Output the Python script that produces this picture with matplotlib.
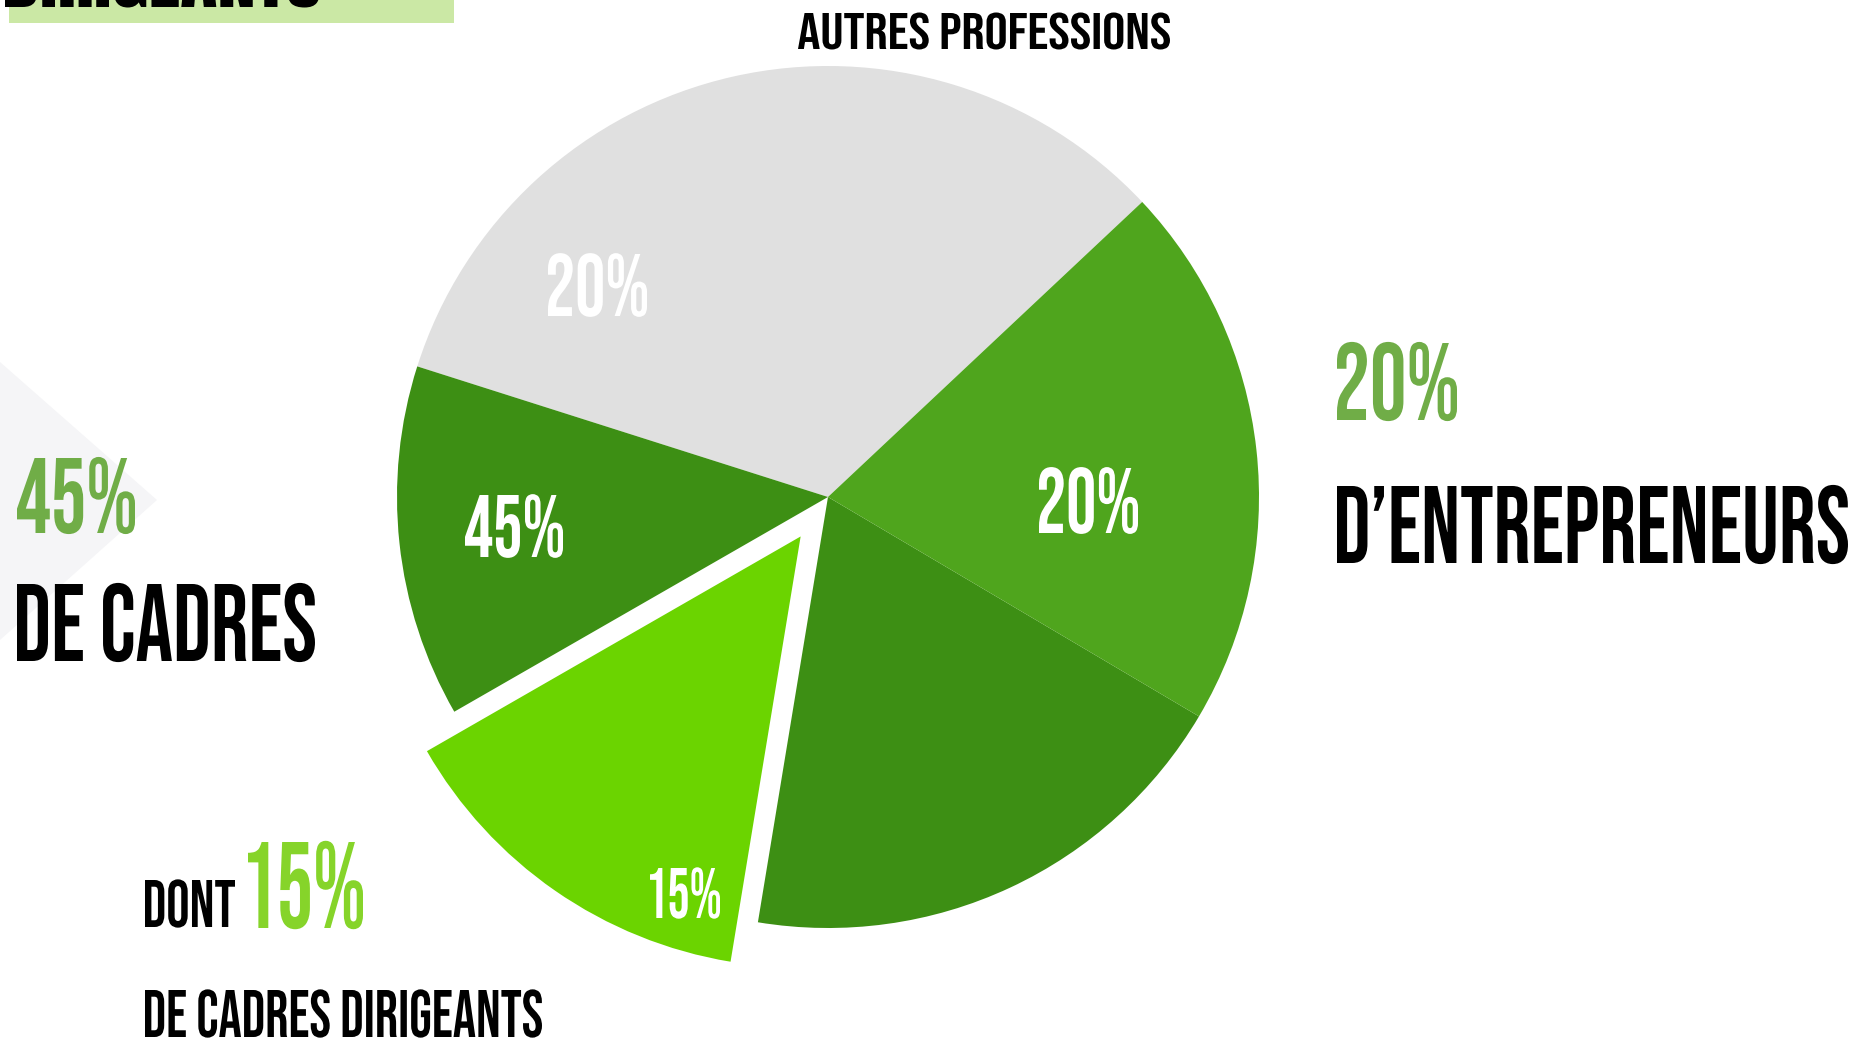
import matplotlib
matplotlib.use("Agg")
import matplotlib.pyplot as plt
from matplotlib.font_manager import FontProperties
from matplotlib.textpath import TextPath
from matplotlib.patheffects import AbstractPathEffect
from matplotlib.transforms import Affine2D
from matplotlib.patches import Polygon, Rectangle

W, H = 1869, 1041

slice_names = ["Autres professions", "Cadres", "Cadres dirigeants", "Cadres (suite)", "Entrepreneurs"]
slice_shares = [33.1, 13.2, 14.1, 19.1, 20.5]
slice_colors = ["#e0e0e0", "#3d8f14", "#6bd400", "#3d8f14", "#4fa51d"]
slice_explode = [0, 0, 48, 0, 0]

# printed percentages
label_autres = "20%"
label_entre = "20%"
label_cadres = "45%"
label_dirig = "15%"


class Stretch(AbstractPathEffect):
    # scales the glyphs vertically around the baseline
    def __init__(self, sy):
        super().__init__()
        self.sy = sy

    def draw_path(self, renderer, gc, tpath, affine, rgbFace=None):
        renderer.draw_path(gc, tpath, Affine2D().scale(1, self.sy) + affine, rgbFace)


def ink(s, family):
    return TextPath((0, 0), s, size=1, prop=FontProperties(family=family)).get_extents()


fig = plt.figure(figsize=(W / 100, H / 100), dpi=100)
ax = fig.add_axes([0, 0, 1, 1])

ax.pie(slice_shares, colors=slice_colors, explode=slice_explode, startangle=-43.2,
       counterclock=False, center=(828, 497), radius=431,
       wedgeprops=dict(linewidth=0))
ax.set_xlim(0, W)
ax.set_ylim(H, 0)
ax.set_aspect("auto")
ax.axis("off")


def label(x, base, width, cap, s, color, family="Bebas Neue"):
    # x = left edge of the ink, base = baseline, width/cap = ink size in px
    e = ink(s, family)
    em = width / e.width
    sy = cap / (ink("H", family).height * em)
    t = ax.text(x - e.x0 * em, base, s, ha="left", va="baseline", color=color,
                fontsize=em * 0.72, family=family)
    t.set_path_effects([Stretch(sy)])
    return t


ax.add_patch(Polygon([(0, 362), (157, 500), (0, 640)], closed=True, fc="#f5f5f7", ec="none", zorder=0))
ax.add_patch(Rectangle((9, 0), 445, 23, fc="#cbe8a5", ec="none", zorder=0))
label(5, 7, 315, 55, "DIRIGEANTS", "black", "Anton")

label(798, 49, 372, 36, "AUTRES PROFESSIONS", "black")
label(548, 316, 99, 62, label_autres, "white")
label(1039, 533, 99, 65, label_entre, "white")
label(465, 557, 98, 62, label_cadres, "white")
label(650, 918, 70, 50, label_dirig, "white")

label(1337, 420, 120, 77, label_entre, "#70ad47")
label(1337, 563, 511, 77, "D\u2019ENTREPRENEURS", "black")
label(17, 533, 118, 75, label_cadres, "#70ad47")
label(17, 661, 298, 77, "DE CADRES", "black")
label(145, 927, 90, 47, "DONT", "black")
label(248, 928, 115, 86, label_dirig, "#86d42a")
label(145, 1037, 397, 47, "DE CADRES DIRIGEANTS", "black")

fig.savefig("out.png", dpi=100)
